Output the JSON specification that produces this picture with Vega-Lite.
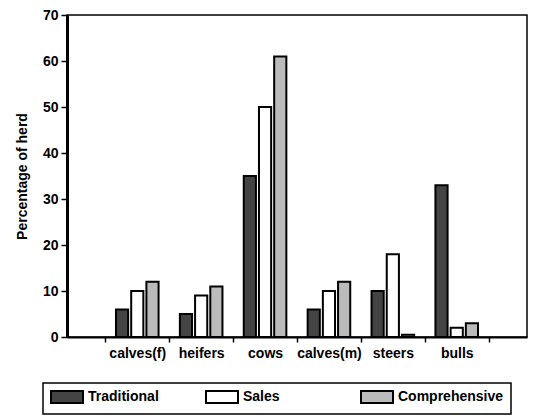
{
  "$schema": "https://vega.github.io/schema/vega-lite/v6.json",
  "width": 460,
  "height": 322,
  "autosize": {"type": "none"},
  "padding": {"left": 67, "top": 15, "right": 18, "bottom": 79},
  "background": "white",
  "config": {
    "font": "Liberation Sans",
    "view": {"stroke": "black", "strokeWidth": 1.5}
  },
  "data": {
    "values": [
      {"category": "calves(f)", "system": "Traditional", "pct": 6},
      {"category": "calves(f)", "system": "Sales", "pct": 10},
      {"category": "calves(f)", "system": "Comprehensive", "pct": 12},
      {"category": "heifers", "system": "Traditional", "pct": 5},
      {"category": "heifers", "system": "Sales", "pct": 9},
      {"category": "heifers", "system": "Comprehensive", "pct": 11},
      {"category": "cows", "system": "Traditional", "pct": 35},
      {"category": "cows", "system": "Sales", "pct": 50},
      {"category": "cows", "system": "Comprehensive", "pct": 61},
      {"category": "calves(m)", "system": "Traditional", "pct": 6},
      {"category": "calves(m)", "system": "Sales", "pct": 10},
      {"category": "calves(m)", "system": "Comprehensive", "pct": 12},
      {"category": "steers", "system": "Traditional", "pct": 10},
      {"category": "steers", "system": "Sales", "pct": 18},
      {"category": "steers", "system": "Comprehensive", "pct": 0.5},
      {"category": "bulls", "system": "Traditional", "pct": 33},
      {"category": "bulls", "system": "Sales", "pct": 2},
      {"category": "bulls", "system": "Comprehensive", "pct": 3}
    ]
  },
  "mark": {"type": "bar", "stroke": "black", "strokeWidth": 2},
  "encoding": {
    "x": {
      "field": "category",
      "type": "nominal",
      "sort": ["calves(f)", "heifers", "cows", "calves(m)", "steers", "bulls"],
      "scale": {"paddingInner": 0, "paddingOuter": 0.6},
      "axis": {
        "title": null,
        "labelAngle": 0,
        "tickBand": "extent",
        "labelFontSize": 14,
        "labelFontWeight": "bold",
        "labelColor": "black",
        "domainColor": "black",
        "domainWidth": 2,
        "tickColor": "black",
        "tickWidth": 1.5,
        "tickSize": 5,
        "labelPadding": 4
      }
    },
    "xOffset": {
      "field": "system",
      "type": "nominal",
      "sort": ["Traditional", "Sales", "Comprehensive"],
      "scale": {"paddingOuter": 0.7, "paddingInner": 0.2}
    },
    "y": {
      "field": "pct",
      "type": "quantitative",
      "scale": {"domain": [0, 70], "nice": false},
      "axis": {
        "title": "Percentage of herd",
        "values": [0, 10, 20, 30, 40, 50, 60, 70],
        "grid": false,
        "labelFontSize": 14,
        "labelFontWeight": "bold",
        "labelColor": "black",
        "titleFontSize": 14,
        "titleFontWeight": "bold",
        "titleColor": "black",
        "titlePadding": 13,
        "domainColor": "black",
        "domainWidth": 3,
        "tickColor": "black",
        "tickWidth": 1.5,
        "tickSize": 6,
        "labelPadding": 3
      }
    },
    "fill": {
      "field": "system",
      "type": "nominal",
      "scale": {
        "domain": ["Traditional", "Sales", "Comprehensive"],
        "range": ["#444444", "#ffffff", "#bbbbbb"]
      },
      "legend": {
        "orient": "none",
        "legendX": -24,
        "legendY": 368,
        "direction": "horizontal",
        "columns": 3,
        "title": null,
        "symbolType": "M-1,-1H4.333V1H-1Z",
        "symbolSize": 144,
        "symbolStrokeColor": "black",
        "symbolStrokeWidth": 2,
        "symbolOpacity": 1,
        "labelFontSize": 14,
        "labelFontWeight": "bold",
        "labelColor": "black",
        "labelOffset": 24,
        "labelLimit": 200,
        "columnPadding": 8,
        "gridAlign": "all",
        "strokeColor": "black",
        "padding": 7,
        "encode": {"legend": {"update": {"strokeWidth": {"value": 1.5}}}}
      }
    }
  }
}
